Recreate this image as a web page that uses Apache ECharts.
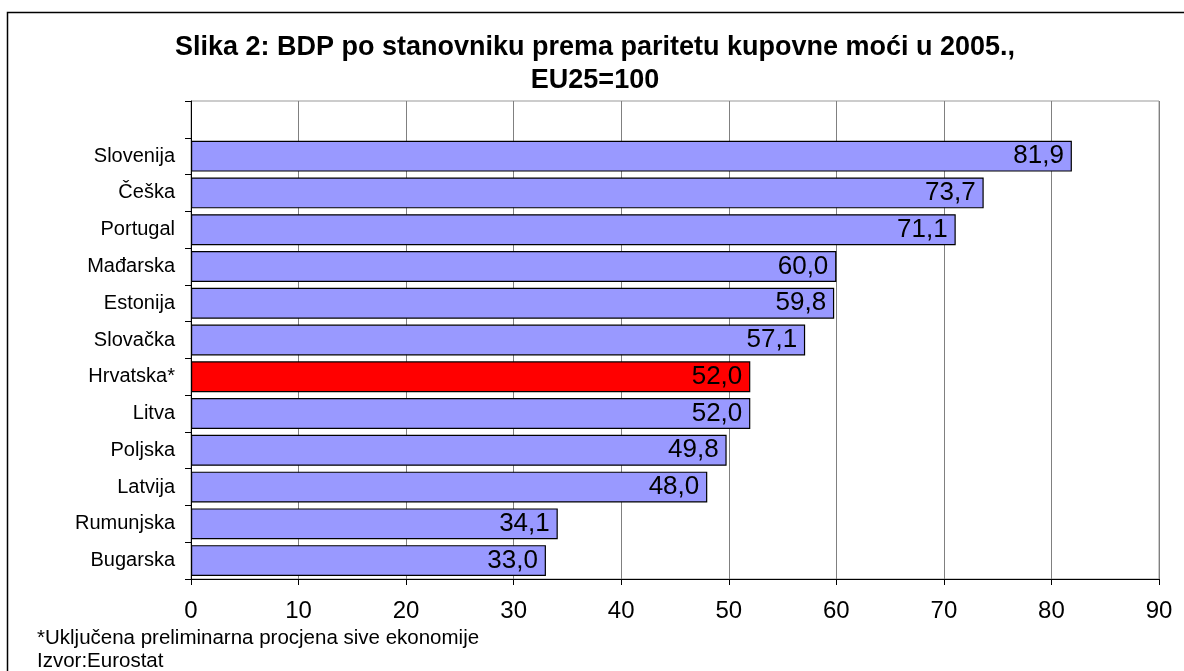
<!DOCTYPE html>
<html>
<head>
<meta charset="utf-8">
<script src="https://cdn.jsdelivr.net/npm/echarts@6/dist/echarts.min.js"></script>
<style>
  html, body { margin: 0; padding: 0; background: #fff; }
  #chart { width: 1184px; height: 671px; }
</style>
</head>
<body>
<div id="chart"></div>
<script>
// podaci (odozdo prema gore, kako ih crta kategorijska os); zadnja je prazna traka na vrhu
var zemlje = ['Bugarska', 'Rumunjska', 'Latvija', 'Poljska', 'Litva', 'Hrvatska*',
  'Slovačka', 'Estonija', 'Mađarska', 'Portugal', 'Češka', 'Slovenija', ''];
var vrijednosti = [33.0, 34.1, 48.0, 49.8, 52.0, 52.0, 57.1, 59.8, 60.0, 71.1, 73.7, 81.9, null];
var istaknuto = 'Hrvatska*';

var chart = echarts.init(document.getElementById('chart'));

chart.setOption({
  animation: false,
  textStyle: { fontFamily: 'Liberation Sans, Arial, sans-serif' },
  title: {
    text: 'Slika 2: BDP po stanovniku prema paritetu kupovne moći u 2005.,\nEU25=100',
    left: 590,
    textAlign: 'center',
    top: 26,
    textStyle: { fontSize: 27, fontWeight: 'bold', color: '#000', lineHeight: 33 }
  },
  graphic: [
    {
      type: 'rect',
      shape: { x: 7.5, y: 12.5, width: 1200, height: 700 },
      style: { fill: 'none', stroke: '#000', lineWidth: 1.5 },
      silent: true
    },
    {
      type: 'text',
      left: 37,
      top: 627,
      style: {
        text: '*Uključena preliminarna procjena sive ekonomije\nIzvor:Eurostat',
        fontSize: 20.5,
        lineHeight: 23,
        fill: '#000',
        fontFamily: 'Liberation Sans, Arial, sans-serif'
      }
    }
  ],
  grid: {
    left: 191,
    right: 25,
    top: 101,
    bottom: 92,
    show: true,
    borderColor: '#999',
    borderWidth: 1
  },
  xAxis: {
    type: 'value',
    min: 0,
    max: 90,
    interval: 10,
    axisLine: { show: true, lineStyle: { color: '#000', width: 1 } },
    axisTick: { show: true, length: 6, lineStyle: { color: '#000' } },
    axisLabel: { fontSize: 24, color: '#000', margin: 20 },
    splitLine: { show: true, lineStyle: { color: '#808080', width: 1 } }
  },
  yAxis: {
    type: 'category',
    data: zemlje,
    axisLine: { show: true, lineStyle: { color: '#000', width: 1 } },
    axisTick: { show: true, length: 6, lineStyle: { color: '#000' } },
    axisLabel: { fontSize: 20, color: '#000', margin: 16 },
    splitLine: { show: false }
  },
  series: [{
    type: 'bar',
    barCategoryGap: '16%',
    data: vrijednosti.map(function (v, i) {
      return {
        value: v,
        itemStyle: { color: zemlje[i] === istaknuto ? '#FF0000' : '#9999FF' }
      };
    }),
    itemStyle: { borderColor: '#000', borderWidth: 1.2 },
    label: {
      show: true,
      position: 'insideRight',
      distance: 8,
      fontSize: 26,
      color: '#000',
      formatter: function (p) {
        return p.value == null ? '' : p.value.toFixed(1).replace('.', ',');
      }
    }
  }]
});
</script>
</body>
</html>
